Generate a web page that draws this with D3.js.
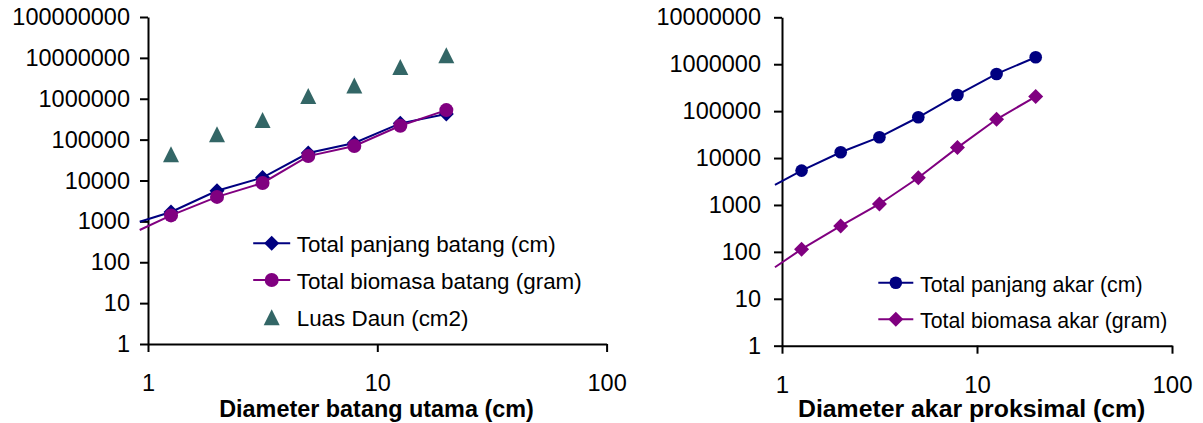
<!DOCTYPE html>
<html>
<head>
<meta charset="utf-8">
<script src="https://cdn.jsdelivr.net/npm/d3@7"></script>
<style>
  body { margin: 0; background: #fff; }
  text { font-family: "Liberation Sans", Arial, sans-serif; }
</style>
</head>
<body>
<div id="chart"></div>
<script>
// diameter classes (cm); the first one only starts the line, left of the axis
var diameter = [0.92, 1.26, 2, 3.16, 5, 7.94, 12.6, 20];

// left chart: batang
var panjangBatang = [980, 1700, 5600, 11800, 47000, 83000, 250000, 422000];
var biomasaBatang = [615, 1400, 3970, 8700, 39600, 70000, 218000, 527000];
var luasDaun = [null, 44000, 135000, 300000, 1160000, 2100000, 6000000, 11600000];

// right chart: akar
var panjangAkar = [2680, 5400, 13300, 27800, 74000, 221000, 620000, 1410000];
var biomasaAkar = [47, 114, 357, 1050, 3800, 16700, 67000, 204000];

var xTicks = [1, 10, 100];
var yTicksBatang = [1, 10, 100, 1000, 10000, 100000, 1000000, 10000000, 100000000];
var yTicksAkar = [1, 10, 100, 1000, 10000, 100000, 1000000, 10000000];

var svg = d3.select("#chart").append("svg")
    .attr("width", 1203)
    .attr("height", 423);

var marker = function (sel, shape, r, color) {
  if (shape === "circle") {
    sel.append("circle").attr("r", r).attr("fill", color);
  } else if (shape === "diamond") {
    sel.append("path").attr("d", "M0," + (-r) + "L" + r + ",0L0," + r + "L" + (-r) + ",0Z").attr("fill", color);
  } else {
    // triangle, centred on its box
    sel.append("path").attr("d", "M0," + (-r) + "L" + r + "," + r + "L" + (-r) + "," + r + "Z").attr("fill", color);
  }
};

var LogChart = function (config) {
  var g = svg.append("g");
  var x = d3.scaleLog().domain([1, 100]).range(config.xRange);
  var y = d3.scaleLog().domain(config.yDomain).range(config.yRange);
  var fmt = d3.format("d");

  var yAxis = g.append("g")
      .attr("transform", "translate(" + config.xRange[0] + ",0)")
      .call(d3.axisLeft(y).tickValues(config.yTicks).tickFormat(fmt)
        .tickSize(8).tickSizeOuter(0).tickPadding(config.yPad));
  var xAxis = g.append("g")
      .attr("transform", "translate(0," + config.yRange[0] + ")")
      .call(d3.axisBottom(x).tickValues(xTicks).tickFormat(fmt)
        .tickSize(8).tickSizeOuter(0).tickPadding(config.xPad));

  [yAxis, xAxis].forEach(function (a) {
    a.attr("font-family", null);
    a.select(".domain").attr("stroke", "#000").attr("stroke-width", 2);
    a.selectAll(".tick line").attr("stroke", "#000").attr("stroke-width", 2);
  });
  yAxis.selectAll("text").attr("font-size", config.tickFont).attr("fill", "#000");
  xAxis.selectAll("text").attr("font-size", config.xTickFont).attr("fill", "#000");

  g.append("text")
      .attr("x", config.titleX)
      .attr("y", config.titleY)
      .attr("text-anchor", "middle")
      .attr("font-weight", "bold")
      .attr("font-size", config.titleFont)
      .text(config.title);

  var line = d3.line()
      .defined(function (d) { return d.v != null; })
      .x(function (d) { return x(d.x); })
      .y(function (d) { return y(d.v); });

  config.series.forEach(function (s) {
    var pts = diameter.map(function (d, i) { return {x: d, v: s.values[i]}; });
    if (s.line) {
      g.append("path")
          .datum(pts)
          .attr("fill", "none")
          .attr("stroke", s.color)
          .attr("stroke-width", 2)
          .attr("d", line);
    }
    g.append("g").selectAll("g")
        .data(pts.filter(function (d) { return d.v != null && d.x >= 1; }))
      .enter().append("g")
        .attr("transform", function (d) { return "translate(" + x(d.x) + "," + y(d.v) + ")"; })
        .each(function () { marker(d3.select(this), s.shape, s.r, s.color); });
  });

  // legend
  var L = config.legend;
  config.series.forEach(function (s, i) {
    var row = g.append("g").attr("transform", "translate(" + L.x + "," + L.ys[i] + ")");
    if (s.line) {
      row.append("line")
          .attr("x1", -L.half).attr("x2", L.half)
          .attr("stroke", s.color).attr("stroke-width", 2);
    }
    marker(row, s.shape, s.r, s.color);
    row.append("text")
        .attr("x", L.textDx)
        .attr("y", 9)
        .attr("font-size", L.font)
        .text(s.name);
  });
};

LogChart({
  xRange: [148, 606.6],
  yRange: [344, 17],
  yDomain: [1, 100000000],
  yTicks: yTicksBatang,
  yPad: 10,
  xPad: 22,
  tickFont: "23.5px",
  xTickFont: "23.5px",
  title: "Diameter batang utama (cm)",
  titleX: 376.5,
  titleY: 417,
  titleFont: "23.4px",
  series: [
    {name: "Total panjang batang (cm)", values: panjangBatang, color: "#000080", shape: "diamond", r: 7.5, line: true},
    {name: "Total biomasa batang (gram)", values: biomasaBatang, color: "#800080", shape: "circle", r: 7, line: true},
    {name: "Luas Daun (cm2)", values: luasDaun, color: "#336666", shape: "triangle", r: 8, line: false}
  ],
  legend: {x: 271.7, ys: [243.3, 280, 317.3], half: 18.5, textDx: 25, font: "22.4px"}
});

LogChart({
  xRange: [782, 1172],
  yRange: [345.7, 17.3],
  yDomain: [1, 10000000],
  yTicks: yTicksAkar,
  yPad: 13,
  xPad: 22,
  tickFont: "23.5px",
  xTickFont: "24px",
  title: "Diameter akar proksimal (cm)",
  titleX: 971.7,
  titleY: 417,
  titleFont: "24.8px",
  series: [
    {name: "Total panjang akar (cm)", values: panjangAkar, color: "#000080", shape: "circle", r: 6.3, line: true},
    {name: "Total biomasa akar (gram)", values: biomasaAkar, color: "#800080", shape: "diamond", r: 7.5, line: true}
  ],
  legend: {x: 895.8, ys: [282.7, 319.3], half: 17.5, textDx: 24.2, font: "21.3px"}
});
</script>
</body>
</html>
